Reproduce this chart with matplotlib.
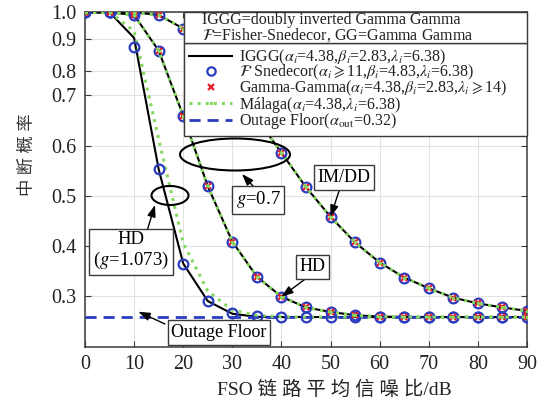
import numpy as np
import matplotlib
matplotlib.use("Agg")
import matplotlib.pyplot as plt
from matplotlib.patches import Ellipse, Rectangle
from matplotlib.lines import Line2D

plt.rcParams['font.family'] = ['Liberation Serif', 'Noto Sans CJK SC']
plt.rcParams['mathtext.fontset'] = 'stix'

# ---------------- data ----------------
snr = [0, 5, 10, 15, 20, 25, 30, 35, 40, 45, 50, 55, 60, 65, 70, 75, 80, 85, 90]

# HD, g = 1.073 (fast curve)
iggg_hd1 = [1.0, 1.0, 0.905, 0.553, 0.365, 0.290, 0.265, 0.259, 0.2585, 0.2585, 0.2585, 0.2585,
            0.2585, 0.2585, 0.2585, 0.2585, 0.2585, 0.2585, 0.2585]
fs_hd1 = [1.0, 1.0, 0.876, 0.553, 0.365, 0.2906, 0.2666, 0.260, 0.2585, 0.2585, 0.2585, 0.2585,
          0.2585, 0.2585, 0.2585, 0.2585, 0.2585, 0.2585, 0.2585]
malaga_hd1 = [1.0, 1.0, 0.93, 0.613, 0.406, 0.31, 0.272, 0.262, 0.259, 0.2585, 0.2585, 0.2585,
              0.2585, 0.2585, 0.2585, 0.2585, 0.2585, 0.2585, 0.2585]

# HD, g = 0.7 (middle curve)
hd07 = [1.0, 1.0, 0.99, 0.864, 0.659, 0.519, 0.4086, 0.3386, 0.2986, 0.2774, 0.2686, 0.262,
        0.2595, 0.2588, 0.2586, 0.2585, 0.2585, 0.2585, 0.2585]

# IM/DD, g = 0.7 (right curve)
imdd07 = [1.0, 1.0, 1.0, 0.99, 0.94, 0.863, 0.758, 0.653, 0.586, 0.517, 0.458, 0.407,
          0.367, 0.337, 0.3155, 0.2966, 0.2854, 0.2774, 0.2706]

outage_floor = 0.2585

x_ticks = [0, 10, 20, 30, 40, 50, 60, 70, 80, 90]
y_ticks = [0.3, 0.4, 0.5, 0.6, 0.7, 0.8, 0.9, 1.0]

# y-axis (non-uniform) scale definition: value -> fraction of axis height
scale_vals = [0.2, 0.3, 0.4, 0.5, 0.6, 0.7, 0.8, 0.9, 1.0]
scale_pos = [0.0, 50.7, 100.7, 151.0, 201.0, 251.7, 276.0, 307.4, 334.4]

legend_labels = [
    r"IGGG($\alpha_i$=4.38,$\beta_i$=2.83,$\lambda_i$=6.38)",
    r"$\mathcal{F}$ Snedecor($\alpha_i\geqslant$11,$\beta_i$=4.83,$\lambda_i$=6.38)",
    r"Gamma-Gamma($\alpha_i$=4.38,$\beta_i$=2.83,$\lambda_i\geqslant$14)",
    r"Málaga($\alpha_i$=4.38,$\lambda_i$=6.38)",
    r"Outage Floor($\alpha_{\rm out}$=0.32)",
]
header_lines = ["IGGG=doubly inverted Gamma Gamma",
                r"$\mathcal{F}$=Fisher-Snedecor, GG=Gamma Gamma"]

# ---------------- style ----------------
BLUE = '#2a3cc0'
RED = '#e8202a'
GREEN = '#86d860'
EDGE = '#3a3a3a'

W, H = 545, 404
fig = plt.figure(figsize=(W / 100, H / 100), dpi=100)
L, R, T, B = 85, 527, 12.3, 346.7
ax = fig.add_axes([L / W, 1 - B / H, (R - L) / W, (B - T) / H])

sv = np.array(scale_vals)
sp = np.array(scale_pos) / scale_pos[-1]


def fwd(v):
    return np.interp(v, sv, sp)


def inv(p):
    return np.interp(p, sp, sv)


ax.set_yscale('function', functions=(fwd, inv))
ax.set_xlim(0, 90)
ax.set_ylim(0.2, 1.0)
ax.set_xticks(x_ticks)
ax.set_yticks(y_ticks)
ax.set_yticklabels([f"{v:.1f}" for v in y_ticks])
ax.minorticks_off()
ax.grid(True, color='#e2e2e2', lw=0.8)
ax.set_axisbelow(True)
for s in ax.spines.values():
    s.set_color(EDGE)
    s.set_linewidth(1.1)
ax.tick_params(direction='in', length=4, width=0.8, colors=EDGE, labelcolor='#222222',
               labelsize=14.5, top=True, right=True, pad=6)

# curves
lw_black = 1.5
ax.plot(snr, iggg_hd1, color='black', lw=lw_black, zorder=3)
ax.plot(snr, hd07, color='black', lw=lw_black, zorder=3)
ax.plot(snr, imdd07, color='black', lw=lw_black, zorder=3)

ax.axhline(outage_floor, color=BLUE, lw=2, ls=(0, (4, 2.5)), zorder=3)

ax.plot(snr, malaga_hd1, color=GREEN, lw=2.2, ls=':', zorder=4)
ax.plot(snr, hd07, color=GREEN, lw=2.2, ls=':', marker='.', ms=3, zorder=6)
ax.plot(snr, imdd07, color=GREEN, lw=2.2, ls=':', marker='.', ms=3, zorder=6)

mk = dict(ls='none', marker='o', ms=7, mfc='none', mec=BLUE, mew=1.6, zorder=5)
ax.plot(snr, fs_hd1, **mk)
ax.plot(snr, hd07, **mk)
ax.plot(snr, imdd07, **mk)

xk = dict(ls='none', marker='x', ms=5, mec=RED, mew=1.6, zorder=5.5)
ax.plot(snr, hd07, **xk)
ax.plot(snr, imdd07, **xk)

# axis labels
ax.set_xlabel("FSO 链 路 平 均 信 噪 比/dB", fontsize=14, color='#222222')
ax.xaxis.set_label_coords((334 - L) / (R - L), (B - 381) / (B - T))
ax.set_ylabel("中 断 概 率", fontsize=12.5, color='#333333')
ax.yaxis.set_label_coords((36 - L) / (R - L), (B - 155) / (B - T))


def ff(x, y):
    return (x / W, 1 - y / H)


# legend
handles = [
    Line2D([], [], color='black', lw=lw_black),
    Line2D([], [], ls='none', marker='o', ms=6, mfc='none', mec=BLUE, mew=1.6),
    Line2D([], [], ls='none', marker='x', ms=5, mec=RED, mew=1.6),
    Line2D([], [], color=GREEN, lw=2.2, ls=':', marker='.', ms=3),
    Line2D([], [], color=BLUE, lw=2, ls=(0, (4, 2.5))),
]
lx0, ly0 = ff(184.3, 118.3)
lx1, ly1 = ff(526.7, 42.7)
leg = fig.legend(handles, legend_labels, loc='upper left',
                 bbox_to_anchor=(lx0, ly0, lx1 - lx0, ly1 - ly0), mode='expand',
                 borderaxespad=0, fontsize=11.5, handlelength=2.7, handletextpad=0.45,
                 labelspacing=-0.22, borderpad=0.3, fancybox=False, framealpha=1,
                 edgecolor=EDGE)
leg.get_frame().set_linewidth(1.0)
for t in leg.get_texts():
    t.set_color('#222222')

hx, hy = ff(184.3, 42.7)
hx2, hy2 = ff(526.7, 11.7)
fig.add_artist(Rectangle((hx, hy), hx2 - hx, hy2 - hy, transform=fig.transFigure,
                         facecolor='white', edgecolor=EDGE, lw=1.0, zorder=10))
for i, line in enumerate(header_lines):
    fig.text(*ff(201.7, 20 + 15 * i), line, fontsize=11.5, va='center', ha='left',
             color='#222222', zorder=11)

# annotations
ell_kw = dict(transform=fig.transFigure, fill=False, edgecolor='black', lw=1.5, zorder=8)
cx, cy = ff(235, 154.5)
fig.add_artist(Ellipse((cx, cy), 110 / W, 32 / H, **ell_kw))
cx, cy = ff(170, 195.5)
fig.add_artist(Ellipse((cx, cy), 37 / W, 19 / H, **ell_kw))

box = dict(boxstyle='square,pad=0.2', facecolor='white', edgecolor=EDGE, lw=1.0)
arr = dict(arrowstyle='-|>,head_length=0.7,head_width=0.25', color='black', lw=1.0,
           shrinkA=0, shrinkB=0)

fig.text(*ff(258, 200), r"$g$=0.7", fontsize=13.5, ha='center', va='center', bbox=box, zorder=9)
ax.annotate("", xy=ff(242, 174), xycoords='figure fraction', xytext=ff(253, 186),
            textcoords='figure fraction', arrowprops=arr, zorder=9)

fig.text(*ff(131, 251), "HD\n(" + r"$g$" + "=1.073)", fontsize=13.5, ha='center', va='center',
         bbox=box, linespacing=1.15, zorder=9)
ax.annotate("", xy=ff(155, 205), xycoords='figure fraction', xytext=ff(147, 231),
            textcoords='figure fraction', arrowprops=arr, zorder=9)

fig.text(*ff(343.7, 177.5), "IM/DD", fontsize=13, ha='center', va='center', bbox=box, zorder=9)
ax.annotate("", xy=(snr[10], imdd07[10]), xycoords='data', xytext=ff(340, 188),
            textcoords='figure fraction', arrowprops=arr, zorder=9)

fig.text(*ff(312.5, 266.7), "HD", fontsize=13, ha='center', va='center', bbox=box, zorder=9)
ax.annotate("", xy=(snr[8], hd07[8]), xycoords='data', xytext=ff(308, 277),
            textcoords='figure fraction', arrowprops=arr, zorder=9)

fig.text(*ff(219, 332.5), "Outage Floor", fontsize=13, ha='center', va='center', bbox=box,
         zorder=9)
ax.annotate("", xy=ff(138.3, 311.7), xycoords='figure fraction', xytext=ff(165, 324),
            textcoords='figure fraction', arrowprops=arr, zorder=9)

fig.savefig("out.png", dpi=100)
